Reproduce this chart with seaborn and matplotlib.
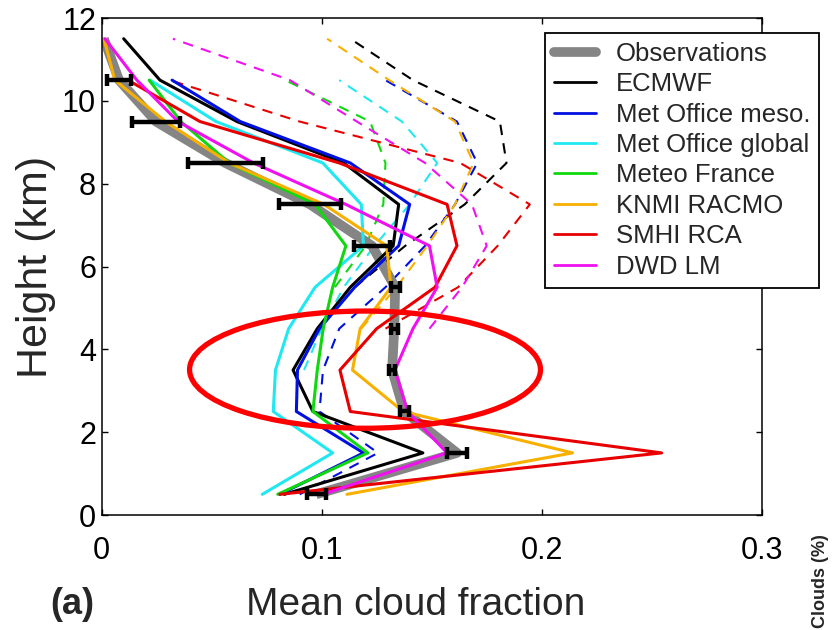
import numpy as np
import pandas as pd
import matplotlib
matplotlib.use("Agg")
import matplotlib.pyplot as plt
from matplotlib.patches import Ellipse
from matplotlib.lines import Line2D
import seaborn as sns

# ---------------- data ----------------
heights = [0.5, 1.5, 2.5, 3.5, 4.5, 5.5, 6.5, 7.5, 8.5, 9.5, 10.5, 11.5]

obs     = [0.0975, 0.1615, 0.1375, 0.132, 0.133, 0.1334, 0.1229, 0.0947, 0.0562, 0.0247, 0.0079, 0.001]
obs_err = [0.0043, 0.0045, 0.002, 0.0015, 0.0015, 0.002, 0.008, 0.014, 0.017, 0.011, 0.0055]

nan = np.nan
ecmwf       = [0.083, 0.146, 0.096, 0.087, 0.098, 0.113, 0.1325, 0.135, 0.110, 0.0615, 0.0265, 0.010]
mo_meso     = [0.081, 0.119, 0.0885, 0.089, 0.099, 0.115, 0.135, 0.140, 0.113, 0.063, 0.032, nan]
mo_global   = [0.073, 0.105, 0.078, 0.079, 0.085, 0.097, 0.119, 0.118, 0.1005, 0.052, 0.022, nan]
meteo_fr    = [0.080, 0.121, 0.096, 0.098, 0.1007, 0.105, 0.111, 0.097, 0.058, 0.036, 0.0216, nan]
knmi        = [0.1115, 0.214, 0.137, 0.114, 0.1175, 0.1315, 0.1295, 0.101, 0.058, 0.029, 0.006, 0.001]
smhi        = [0.081, 0.2545, 0.113, 0.1083, 0.125, 0.1515, 0.1615, 0.157, 0.108, 0.0447, 0.012, nan]
dwd         = [0.1005, 0.157, 0.139, 0.1333, 0.1415, 0.1525, 0.149, 0.111, 0.069, 0.0347, 0.016, 0.0015]

ecmwf_d     = [nan, nan, nan, nan, nan, 0.115, 0.138, 0.165, 0.184, 0.181, 0.1415, 0.113]
mo_meso_d   = [0.090, 0.1256, 0.099, 0.1006, 0.108, 0.129, 0.147, 0.1606, 0.1707, 0.1615, 0.129, nan]
mo_global_d = [nan, nan, nan, 0.092, 0.100, 0.110, 0.124, 0.140, 0.1525, 0.1365, 0.108, nan]
meteo_fr_d  = [nan, nan, nan, nan, nan, 0.106, 0.120, 0.128, 0.129, 0.122, 0.0835, nan]
knmi_d      = [nan, nan, nan, nan, 0.118, 0.134, 0.148, 0.1606, 0.169, 0.1606, 0.1307, 0.1025]
smhi_d      = [nan, nan, nan, nan, 0.129, 0.162, 0.180, 0.1946, 0.163, 0.090, 0.031, nan]
dwd_d       = [nan, nan, nan, nan, 0.149, 0.1638, 0.175, 0.1683, 0.147, 0.116, 0.0856, 0.0324]

models = ["ECMWF", "Met Office meso.", "Met Office global", "Meteo France",
          "KNMI RACMO", "SMHI RCA", "DWD LM"]
solid_series = [ecmwf, mo_meso, mo_global, meteo_fr, knmi, smhi, dwd]
dashed_series = [ecmwf_d, mo_meso_d, mo_global_d, meteo_fr_d, knmi_d, smhi_d, dwd_d]
colors = ["#000000", "#0010e0", "#20e8f0", "#10d810", "#f8b000", "#e80000", "#f010f0"]

x_ticks = [0, 0.1, 0.2, 0.3]
x_ticklabels = ["0", "0.1", "0.2", "0.3"]
y_ticks = [0, 2, 4, 6, 8, 10, 12]

# ---------------- style ----------------
sns.set_style("ticks")
plt.rcParams["font.family"] = ["Liberation Sans", "DejaVu Sans"]

def long_df(series_list):
    rows = []
    for name, vals in zip(models, series_list):
        for h, v in zip(heights, vals):
            if not np.isnan(v):
                rows.append({"model": name, "height": h, "frac": v})
    return pd.DataFrame(rows)

df_solid = long_df(solid_series)
df_dash = long_df(dashed_series)
palette = dict(zip(models, colors))

fig = plt.figure(figsize=(8.32, 6.30), dpi=100)
ax = fig.add_axes([0.1222, 0.1825, 0.7933, 0.7889])

# dashed profiles
sns.lineplot(data=df_dash, x="frac", y="height", hue="model", palette=palette,
             sort=False, estimator=None, legend=False, ax=ax,
             linewidth=1.5, dashes=False)
for ln in ax.get_lines():
    ln.set_linestyle((0, (5, 4)))

# observations (thick gray)
sns.lineplot(x=obs, y=heights, sort=False, estimator=None, color="#858585",
             linewidth=7, ax=ax, legend=False, solid_capstyle="butt")

# solid model profiles
sns.lineplot(data=df_solid, x="frac", y="height", hue="model", palette=palette,
             sort=False, estimator=None, legend=False, ax=ax, linewidth=2.2)

# observation error bars
ax.errorbar(obs[:len(obs_err)], heights[:len(obs_err)], xerr=obs_err, fmt="none",
            ecolor="black", elinewidth=3.2, capsize=4.5, capthick=3.2, zorder=5)

# red ellipse highlight
ax.add_patch(Ellipse((0.1197, 3.51), 0.1595, 2.83, fill=False,
                     edgecolor="#ff0000", linewidth=3.8, zorder=6))

ax.set_xlim(0, 0.3)
ax.set_ylim(0, 12)
ax.set_xticks(x_ticks)
ax.set_xticklabels(x_ticklabels)
ax.set_yticks(y_ticks)
ax.tick_params(direction="in", length=4, width=1, top=True, right=True,
               labelsize=22, colors="black")
ax.tick_params(axis="x", pad=15)
ax.tick_params(axis="y", pad=4)
for sp in ax.spines.values():
    sp.set_linewidth(1.1)
    sp.set_color("black")

ax.set_xlabel("")
ax.set_ylabel("Height (km)", fontsize=31, labelpad=4)
fig.text(0.5, 0.04, "Mean cloud fraction", fontsize=28, ha="center", va="center")
fig.text(0.06, 0.04, "(a)", fontsize=26, fontweight="bold", ha="left", va="center")
fig.text(0.976, 0.003, "Clouds (%)", fontsize=13, fontweight="bold",
         rotation=90, ha="left", va="bottom")

handles = [Line2D([], [], color="#858585", linewidth=7)]
handles += [Line2D([], [], color=c, linewidth=2.0) for c in colors]
leg = fig.legend(handles, ["Observations"] + models, loc="upper left",
                 bbox_to_anchor=(0.655, 0.948), fontsize=18.5, frameon=True,
                 fancybox=False, handlelength=1.65, handletextpad=0.75,
                 borderpad=0.35, labelspacing=0.25, borderaxespad=0)
leg.get_frame().set_edgecolor("black")
leg.get_frame().set_linewidth(1.3)
leg.get_frame().set_facecolor("white")
leg.get_frame().set_alpha(1)

fig.savefig("out.png", dpi=100)
